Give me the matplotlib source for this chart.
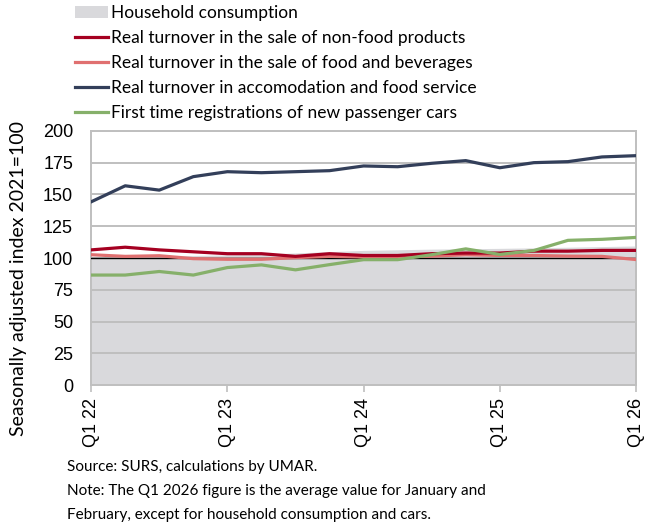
import matplotlib.pyplot as plt
import numpy as np

quarters = ['Q1 22', 'Q2 22', 'Q3 22', 'Q4 22', 'Q1 23', 'Q2 23', 'Q3 23', 'Q4 23',
            'Q1 24', 'Q2 24', 'Q3 24', 'Q4 24', 'Q1 25', 'Q2 25', 'Q3 25', 'Q4 25', 'Q1 26']
household = [101, 101.5, 101.5, 102, 102.5, 103, 104, 105, 106, 106.5, 107, 107.3,
             107.6, 108, 108.5, 109, 109.5]
non_food = [106.4, 108.5, 106.4, 104.9, 103.4, 103.4, 101.3, 103.4, 102, 102, 103.4,
            103.9, 103.9, 105.4, 105.4, 106, 106]
food = [102.6, 101.3, 101.8, 99.5, 99, 99, 100.3, 101.3, 100.8, 100.8, 101.5, 102.6,
        102, 102, 101.5, 101.3, 98.8]
accomodation = [144.2, 156.8, 153.4, 164, 167.9, 167.1, 167.9, 168.7, 172.4, 171.8,
                174.5, 176.6, 171, 175, 175.8, 179.5, 180.5]
cars = [86.6, 86.6, 89.4, 86.6, 92.5, 94.6, 90.7, 94.8, 98.7, 98.7, 102.6, 107.2,
        102.8, 105.9, 113.9, 114.7, 116.2]

labels = ['Household consumption',
          'Real turnover in the sale of non-food products',
          'Real turnover in the sale of food and beverages',
          'Real turnover in accomodation and food service',
          'First time registrations of new passenger cars']

txt_font = ['Lato', 'DejaVu Sans']
num_font = ['Liberation Sans', 'DejaVu Sans']

x = np.arange(len(quarters))

fig = plt.figure(figsize=(6.51, 5.32), dpi=100)
ax = fig.add_axes([0.140, 0.276, 0.837, 0.478])

ax.fill_between(x, 0, household, color='#d9d9dc', lw=0, zorder=0.5, label=labels[0])
ax.plot(x, non_food, color='#a50021', lw=2.3, zorder=3, label=labels[1])
ax.plot(x, food, color='#e07070', lw=2.3, zorder=2.9, label=labels[2])
ax.plot(x, accomodation, color='#333f5a', lw=2.3, zorder=3, label=labels[3])
ax.plot(x, cars, color='#86b06a', lw=2.3, zorder=3.1, label=labels[4])
ax.axhline(100, color='black', lw=1, zorder=2.8)

ax.set_xlim(0, len(quarters) - 1)
ax.set_ylim(0, 200)
ax.set_yticks(range(0, 201, 25))
ax.set_xticks(x[::4])
ax.set_xticklabels(quarters[::4], rotation=90, family=num_font, fontsize=13)
for lab in ax.get_yticklabels():
    lab.set_family(num_font)
    lab.set_fontsize(13)

ax.set_axisbelow(False)
ax.grid(axis='y', color='#bfbfbf', lw=1.4, zorder=1)
for s in ax.spines.values():
    s.set_color('#bfbfbf')
    s.set_linewidth(1.4)
ax.tick_params(axis='x', length=5, color='#bfbfbf', width=1.2, pad=4)
ax.tick_params(axis='y', length=0, pad=13)

fig.text(0.028, 0.476, 'Seasonally adjusted index 2021=100', rotation=90,
         ha='center', va='center', family=txt_font, fontsize=14)

fig.legend(loc='upper left', bbox_to_anchor=(0.104, 1.003), frameon=False,
           prop={'family': txt_font, 'size': 12.5}, handlelength=1.9,
           handletextpad=0.17, labelspacing=0.52, borderaxespad=0)

fig.text(0.103, 0.122, 'Source: SURS, calculations by UMAR.', family=txt_font,
         fontsize=11, va='center')
fig.text(0.103, 0.077, 'Note: The Q1 2026 figure is the average value for January and',
         family=txt_font, fontsize=11, va='center')
fig.text(0.103, 0.032, 'February, except for household consumption and cars.',
         family=txt_font, fontsize=11, va='center')

fig.savefig('out.png', dpi=100)
